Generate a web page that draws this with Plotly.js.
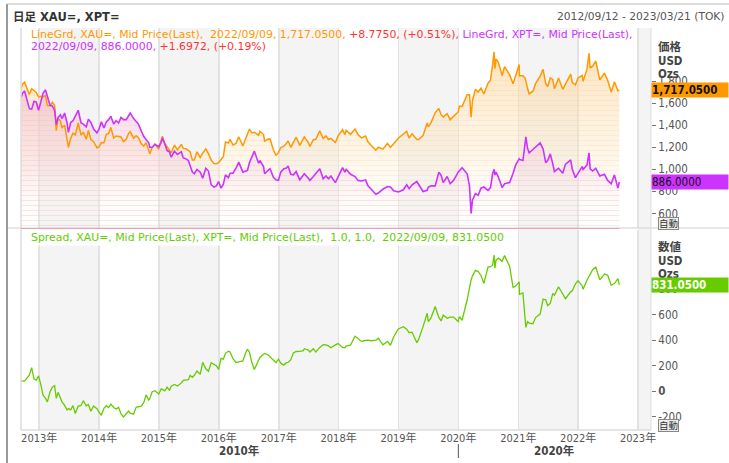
<!DOCTYPE html>
<html><head><meta charset="utf-8">
<script src="https://cdn.plot.ly/plotly-3.0.1.min.js"></script>
<style>html,body{margin:0;padding:0;background:#fff;}#chart{width:729px;height:463px;}</style>
</head><body><div id="chart"></div>
<script>
const dates = [
 '2012-09-12','2012-09-21','2012-10-04','2012-10-19','2012-11-02','2012-11-16','2012-11-30','2012-12-14','2012-12-28',
 '2013-01-11','2013-01-25','2013-02-08','2013-02-20','2013-03-08','2013-03-22','2013-04-05','2013-04-15','2013-04-26','2013-05-10','2013-05-20','2013-06-05','2013-06-20','2013-06-28','2013-07-12','2013-07-26','2013-08-09','2013-08-27','2013-09-13','2013-09-27','2013-10-15','2013-10-28','2013-11-12','2013-11-29','2013-12-19','2013-12-31',
 '2014-01-15','2014-01-31','2014-02-14','2014-02-28','2014-03-14','2014-03-31','2014-04-15','2014-04-30','2014-05-15','2014-05-30','2014-06-16','2014-06-30','2014-07-10','2014-07-31','2014-08-15','2014-08-29','2014-09-15','2014-09-30','2014-10-15','2014-10-31','2014-11-06','2014-11-20','2014-12-08','2014-12-31',
 '2015-01-15','2015-01-22','2015-02-06','2015-02-20','2015-03-06','2015-03-17','2015-04-06','2015-04-24','2015-05-18','2015-05-29','2015-06-15','2015-06-30','2015-07-10','2015-07-24','2015-08-05','2015-08-21','2015-09-10','2015-09-25','2015-10-14','2015-10-30','2015-11-16','2015-12-03','2015-12-17','2015-12-31',
 '2016-01-15','2016-01-29','2016-02-11','2016-02-29','2016-03-10','2016-03-28','2016-04-15','2016-05-02','2016-05-27','2016-06-10','2016-06-24','2016-07-06','2016-07-21','2016-08-05','2016-08-31','2016-09-08','2016-09-30','2016-10-07','2016-10-31','2016-11-09','2016-11-30','2016-12-15','2016-12-30',
 '2017-01-13','2017-01-31','2017-02-15','2017-02-27','2017-03-15','2017-03-31','2017-04-17','2017-05-09','2017-05-31','2017-06-06','2017-06-30','2017-07-10','2017-07-31','2017-08-15','2017-09-08','2017-09-29','2017-10-16','2017-10-31','2017-11-15','2017-12-12','2017-12-29',
 '2018-01-25','2018-02-08','2018-02-16','2018-03-15','2018-04-11','2018-04-30','2018-05-21','2018-06-14','2018-06-29','2018-07-19','2018-08-16','2018-08-31','2018-09-28','2018-10-26','2018-11-13','2018-12-03','2018-12-31',
 '2019-01-31','2019-02-20','2019-03-07','2019-03-25','2019-04-23','2019-05-02','2019-05-31','2019-06-25','2019-07-02','2019-07-19','2019-08-13','2019-09-04','2019-09-18','2019-10-01','2019-10-25','2019-11-12','2019-12-03','2019-12-31',
 '2020-01-08','2020-01-24','2020-02-24','2020-03-09','2020-03-19','2020-03-27','2020-04-14','2020-05-01','2020-05-18','2020-06-05','2020-06-30','2020-07-15','2020-07-28','2020-08-06','2020-08-11','2020-08-18','2020-09-01','2020-09-24','2020-10-09','2020-11-09','2020-11-30','2020-12-16',
 '2021-01-06','2021-01-08','2021-01-29','2021-02-12','2021-02-16','2021-02-26','2021-03-08','2021-03-31','2021-04-16','2021-05-14','2021-06-01','2021-06-17','2021-06-29','2021-07-15','2021-07-30','2021-08-09','2021-08-25','2021-09-03','2021-09-29','2021-10-15','2021-11-16','2021-11-26','2021-12-15','2021-12-31',
 '2022-01-25','2022-01-31','2022-02-24','2022-03-08','2022-03-15','2022-03-31','2022-04-18','2022-05-13','2022-06-10','2022-06-30','2022-07-21','2022-08-10','2022-08-31','2022-09-09'
];
const xau = [
 1732,1772,1790,1725,1677,1730,1712,1697,1656,
 1662,1658,1667,1578,1577,1607,1580,1350,1462,1437,1378,1400,1275,1200,1280,1328,1312,1420,1310,1337,1272,1352,1270,1250,1195,1202,
 1243,1242,1318,1324,1380,1284,1302,1295,1293,1250,1275,1326,1340,1282,1305,1287,1234,1210,1242,1172,1140,1195,1230,1184,
 1264,1300,1234,1203,1167,1150,1219,1176,1226,1190,1186,1171,1160,1085,1085,1159,1108,1146,1186,1142,1084,1052,1050,1061,
 1088,1116,1247,1238,1272,1220,1235,1295,1212,1274,1320,1365,1330,1336,1309,1345,1315,1256,1277,1275,1173,1128,1151,
 1196,1210,1232,1257,1200,1250,1291,1217,1268,1293,1242,1207,1268,1272,1348,1280,1303,1270,1280,1243,1303,
 1358,1315,1353,1317,1365,1314,1285,1302,1250,1215,1174,1200,1183,1235,1200,1232,1282,
 1320,1345,1283,1322,1270,1270,1305,1420,1385,1426,1512,1552,1495,1475,1505,1450,1480,1520,
 1573,1570,1675,1675,1472,1620,1725,1700,1735,1683,1780,1808,1945,2065,1911,2000,1970,1850,1930,1855,1776,1862,
 1950,1848,1848,1824,1794,1734,1683,1708,1776,1843,1905,1775,1750,1828,1815,1730,1790,1827,1725,1768,1862,1785,1765,1828,
 1850,1797,1910,2050,1917,1937,1980,1811,1871,1807,1700,1792,1711,1717.05
];
const xpt = [
 1650,1690,1710,1620,1550,1545,1615,1610,1535,
 1610,1690,1720,1660,1580,1575,1535,1405,1470,1495,1460,1510,1420,1335,1425,1440,1485,1535,1420,1410,1385,1455,1425,1365,1330,1362,
 1430,1375,1430,1450,1480,1410,1440,1420,1470,1450,1450,1480,1510,1460,1430,1410,1350,1300,1270,1240,1200,1200,1225,1205,
 1245,1285,1230,1170,1160,1110,1165,1135,1160,1105,1095,1080,1035,975,960,1000,975,920,1010,985,860,840,850,890,
 830,865,950,925,965,965,1010,1065,975,985,990,1060,1105,1165,1055,1080,1025,960,995,1005,925,905,900,
 975,1005,1010,1030,955,950,980,905,950,960,920,900,935,965,1005,915,940,915,940,880,930,
 1015,975,1000,955,935,900,895,905,850,820,775,785,820,845,840,805,795,
 815,860,825,860,890,870,800,810,840,850,850,975,945,880,935,870,900,975,
 990,1015,960,850,600,720,780,765,830,840,810,835,960,1000,950,975,930,835,870,880,965,1040,
 1095,1090,1080,1270,1295,1190,1150,1180,1200,1240,1185,1060,1080,1140,1050,980,1000,1010,965,1045,1085,1000,925,965,
 1025,1000,1040,1150,1005,985,1010,940,955,900,870,950,830,886
];
const spread = xau.map((v, i) => +(v - xpt[i]).toFixed(4));
const priceTicks = [600, 800, 1000, 1200, 1400, 1600, 1800];
const spreadTicks = [-200, 0, 200, 400, 600, 800];
const spreadTickText = ['-200', '<b>0</b>', '200', '400', '600', '800'];
const shadedYears = [2013, 2015, 2017, 2019, 2021, 2023];
const xStart = '2012-09-12', xEnd = '2023-03-21';

const W = 729, H = 463, L = 21, R = 78, T = 28, B = 33;
const PW = W - L - R, PH = H - T - B;
const px = x => (x - L) / PW;
const py = y => (H - B - y) / PH;

const FONT = "'DejaVu Sans Condensed', 'Noto Sans CJK JP', sans-serif";
const FONTW = "'DejaVu Sans', 'Noto Sans CJK JP', sans-serif";
const GOLD = '#ff9900', PLAT = '#cc33ff', GREEN = '#66cc00', RED = '#ff3333';

const traces = [
  {x: dates, y: xau, xaxis: 'x2', yaxis: 'y2', type: 'scatter', mode: 'lines', line: {width: 0, color: GOLD},
   fill: 'tozeroy', fillgradient: {type: 'vertical', start: 469, stop: 2100,
     colorscale: [[0, 'rgba(255,255,255,0)'], [0.4, 'rgba(253,230,195,0.35)'], [1, 'rgba(252,205,140,0.6)']]}, hoverinfo: 'skip'},
  {x: dates, y: xau, xaxis: 'x2', yaxis: 'y2', type: 'scatter', mode: 'lines', line: {width: 0, color: GOLD},
   fill: 'tozeroy', fillcolor: 'rgba(0,0,0,0)',
   fillpattern: {shape: '-', size: 5, solidity: 0.2, fgcolor: '#f9d3a2', fgopacity: 0.3}, hoverinfo: 'skip'},
  {x: dates, y: xpt, xaxis: 'x2', yaxis: 'y2', type: 'scatter', mode: 'lines', line: {width: 0, color: PLAT},
   fill: 'tozeroy', fillgradient: {type: 'vertical', start: 469, stop: 1750,
     colorscale: [[0, 'rgba(255,255,255,0)'], [0.4, 'rgba(245,208,222,0.35)'], [1, 'rgba(238,178,202,0.5)']]}, hoverinfo: 'skip'},
  {x: dates, y: xpt, xaxis: 'x2', yaxis: 'y2', type: 'scatter', mode: 'lines', line: {width: 0, color: PLAT},
   fill: 'tozeroy', fillcolor: 'rgba(0,0,0,0)',
   fillpattern: {shape: '-', size: 5, solidity: 0.2, fgcolor: '#f0bfd1', fgopacity: 0.25}, hoverinfo: 'skip'},
  {x: dates, y: xau, xaxis: 'x2', yaxis: 'y2', type: 'scatter', mode: 'lines', line: {width: 1.5, color: GOLD}},
  {x: dates, y: xpt, xaxis: 'x2', yaxis: 'y2', type: 'scatter', mode: 'lines', line: {width: 1.6, color: PLAT}},
  {x: dates, y: spread, xaxis: 'x', yaxis: 'y', type: 'scatter', mode: 'lines', line: {width: 1.3, color: GREEN}}
];

const shapes = [];
shadedYears.forEach(yr => {
  const x1 = (yr + 1) + '-01-01';
  shapes.push({type: 'rect', xref: 'x', yref: 'paper', x0: yr + '-01-01', x1: (x1 > xEnd ? xEnd : x1), y0: 0, y1: 1,
    fillcolor: '#f4f4f4', line: {width: 0}, layer: 'below'});
});
shapes.push({type: 'line', xref: 'paper', yref: 'paper', x0: px(7), x1: px(7), y0: py(4), y1: py(463), line: {color: '#9a9a9a', width: 2}});
shapes.push({type: 'line', xref: 'paper', yref: 'paper', x0: px(7), x1: px(729), y0: py(4), y1: py(4), line: {color: '#bbbbbb', width: 1}});
shapes.push({type: 'line', xref: 'paper', yref: 'paper', x0: px(8), x1: px(729), y0: py(228), y1: py(228), line: {color: '#cfcfcf', width: 1}});
shapes.push({type: 'line', xref: 'paper', yref: 'paper', x0: 1, x1: 1, y0: 0, y1: 1, line: {color: '#dddddd', width: 1}});
shapes.push({type: 'line', xref: 'paper', yref: 'paper', x0: 0, x1: 0, y0: 0, y1: 1, line: {color: '#dddddd', width: 1.5}});
shapes.push({type: 'line', xref: 'paper', yref: 'paper', x0: 0, x1: 1, y0: 0, y1: 0, line: {color: '#dddddd', width: 1.5}});
shapes.push({type: 'line', xref: 'x2', yref: 'paper', x0: dates[0], x1: dates[dates.length - 1], y0: py(228.5), y1: py(228.5), line: {color: '#e9a5bd', width: 1}});
shapes.push({type: 'line', xref: 'x', yref: 'paper', x0: '2020-01-01', x1: '2020-01-01', y0: py(444), y1: py(458), line: {color: '#555', width: 1}});

const ann = [];
const A = (o) => ann.push(Object.assign({showarrow: false, xref: 'paper', yref: 'paper', xanchor: 'left', yanchor: 'middle',
  font: {family: FONT, size: 11, color: '#555'}}, o));
A({x: px(11), y: py(17), text: '<b>日足 XAU=, XPT=</b>', font: {family: FONTW, size: 11.5, color: '#333'}});
A({x: px(727), y: py(17), xanchor: 'right', text: '2012/09/12 - 2023/03/21 (TOK)', font: {family: FONTW, size: 10.7, color: '#555'}});
A({x: px(29), y: py(35), text:
  `<span style="color:${GOLD}">LineGrd, XAU=, Mid Price(Last),  2022/09/09, 1,717.0500, </span><span style="color:${RED}">+8.7750, (+0.51%),</span><span style="color:${PLAT}"> LineGrd, XPT=, Mid Price(Last),</span>`,
  font: {family: FONTW, size: 10.9, color: GOLD}});
A({x: px(29), y: py(47), text:
  `<span style="color:${PLAT}">2022/09/09, 886.0000, </span><span style="color:${RED}">+1.6972, (+0.19%)</span>`,
  font: {family: FONTW, size: 10.9, color: PLAT}});
A({x: px(29), y: py(237.5), text: 'Spread, XAU=, Mid Price(Last), XPT=, Mid Price(Last),  1.0, 1.0,  2022/09/09, 831.0500',
  font: {family: FONTW, size: 10.9, color: GREEN}, bgcolor: 'rgba(255,255,255,0.95)'});
['価格', 'USD', 'Ozs'].forEach((t, i) => A({x: px(656), y: py(47 + i * 13.5), text: '<b>' + t + '</b>', font: {family: FONT, size: 11.5, color: '#444'}}));
['数値', 'USD', 'Ozs'].forEach((t, i) => A({x: px(656), y: py(247 + i * 13.5), text: '<b>' + t + '</b>', font: {family: FONT, size: 11.5, color: '#444'}}));
A({x: px(651), y: xau[xau.length - 1], yref: 'y2', text: '<b>1,717.0500</b>', bgcolor: GOLD, width: 76, align: 'left', borderpad: 0,
  font: {family: FONT, size: 11.5, color: '#111'}});
A({x: px(651), y: xpt[xpt.length - 1], yref: 'y2', text: '886.0000', bgcolor: PLAT, width: 76, align: 'left', borderpad: 0,
  font: {family: FONT, size: 11.5, color: '#111'}});
A({x: px(651), y: spread[spread.length - 1], yref: 'y', text: '<b>831.0500</b>', bgcolor: GREEN, width: 76, align: 'left', borderpad: 0,
  font: {family: FONT, size: 11.5, color: '#ffffff'}});
A({x: px(658), y: py(223.5), text: '自動', bgcolor: '#eeeeee', bordercolor: '#888', borderwidth: 1, borderpad: 0, font: {family: FONT, size: 9.5, color: '#333'}});
A({x: px(658), y: py(425.5), text: '自動', bgcolor: '#eeeeee', bordercolor: '#888', borderwidth: 1, borderpad: 0, font: {family: FONT, size: 9.5, color: '#333'}});
A({x: '2016-05-07', xref: 'x', y: py(451), xanchor: 'center', text: '<b>2010年</b>', font: {family: FONT, size: 11.5, color: '#444'}});
A({x: '2021-08-10', xref: 'x', y: py(451), xanchor: 'center', text: '<b>2020年</b>', font: {family: FONT, size: 11.5, color: '#444'}});

const xCommon = {type: 'date', range: [xStart, xEnd], dtick: 'M12', tick0: '2013-01-01', showgrid: true,
  gridcolor: '#e3e3e3', gridwidth: 1.5, zeroline: false, showline: false, fixedrange: true};

const layout = {
  width: W, height: H, margin: {l: L, r: R, t: T, b: B, pad: 0},
  paper_bgcolor: '#ffffff', plot_bgcolor: '#ffffff', showlegend: false,
  font: {family: FONT, size: 11, color: '#555'},
  xaxis: Object.assign({}, xCommon, {anchor: 'y', tickformat: '%Y年', ticks: '', tickfont: {family: FONT, size: 11, color: '#555'}}),
  xaxis2: Object.assign({}, xCommon, {anchor: 'y2', matches: 'x', showticklabels: false, ticks: ''}),
  yaxis: {domain: [0, (H - B - 230) / PH], range: [-302, 1260], side: 'right', anchor: 'x', tickvals: spreadTicks, ticktext: spreadTickText,
    ticks: 'outside', ticklen: 4, tickcolor: '#777', showgrid: false, zeroline: false, showline: false,
    tickfont: {family: FONT, size: 11.5, color: '#555'}},
  yaxis2: {domain: [(H - B - 228) / PH, 1], range: [469, 2280], side: 'right', anchor: 'x2', tickvals: priceTicks, tickformat: ',',
    ticks: 'outside', ticklen: 4, tickcolor: '#777', showgrid: false, zeroline: false, showline: false,
    tickfont: {family: FONT, size: 11.5, color: '#555'}},
  shapes: shapes, annotations: ann
};
Plotly.newPlot('chart', traces, layout, {displayModeBar: false, staticPlot: true});
</script></body></html>
